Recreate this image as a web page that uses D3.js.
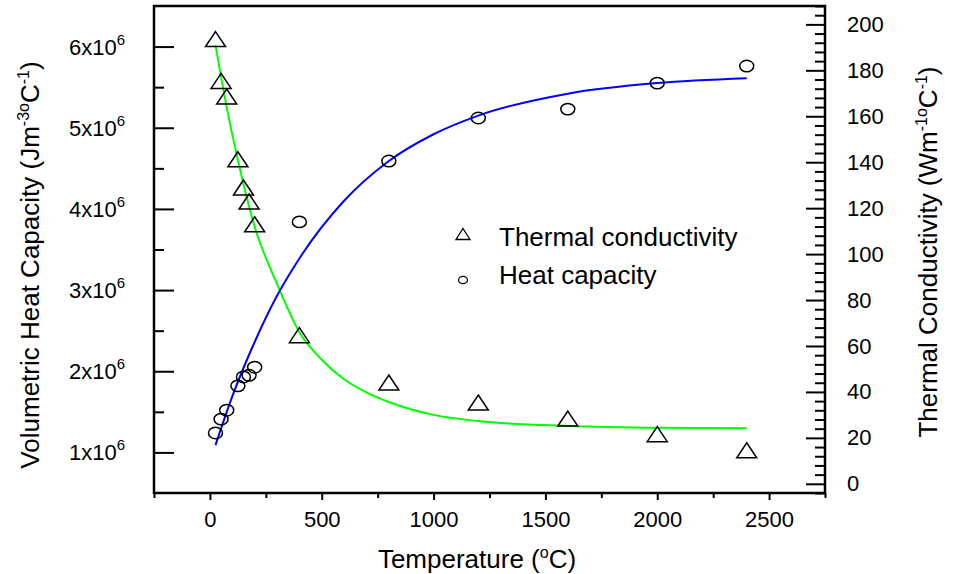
<!DOCTYPE html>
<html>
<head>
<meta charset="utf-8">
<script src="https://cdn.jsdelivr.net/npm/d3@7"></script>
<style>
  body { margin: 0; background: #fff; }
  text { font-family: "Liberation Sans", Arial, sans-serif; fill: #000; }
</style>
</head>
<body>
<svg id="chart" width="956" height="574"></svg>
<script>
// measured points
var temps = [25, 50, 75, 125, 150, 175, 200, 400, 800, 1200, 1600, 2000, 2400];
var conductivity = [193.6, 175.4, 168.6, 141.3, 129, 122.9, 113, 64.7, 44.1, 35.4, 28.4, 21.6, 14.6];
var heatCapacity = [1.24, 1.41, 1.52, 1.82, 1.93, 1.95, 2.05, 3.84, 4.59, 5.12, 5.23, 5.55, 5.76]; // x10^6

// fitted curves
var fitTempsCp = [25, 100, 200, 300, 400, 600, 800, 1000, 1200, 1600, 2000, 2400];
var fitCp = [1.09, 1.69, 2.36, 2.93, 3.39, 4.10, 4.59, 4.92, 5.15, 5.42, 5.55, 5.61];
var fitTempsK = [25, 75, 125, 200, 300, 400, 500, 600, 700, 800, 1000, 1200, 1600, 2000, 2400];
var fitK = [191, 164, 141, 112, 87, 66, 54, 45.5, 39.8, 35.6, 30, 27.3, 25.2, 24.4, 24.2];

var xTicks = [0, 500, 1000, 1500, 2000, 2500];
var xMinor = [-250, 250, 750, 1250, 1750, 2250, 2750];
var leftTicks = [1, 2, 3, 4, 5, 6];
var leftMinor = [1.5, 2.5, 3.5, 4.5, 5.5];
var rightTicks = [0, 20, 40, 60, 80, 100, 120, 140, 160, 180, 200];

var svg = d3.select("#chart");

var margin = {left: 154, right: 131, top: 6, bottom: 81};
var W = 956, H = 574;

var x = d3.scaleLinear().domain([-250, 2750]).range([margin.left, W - margin.right]);
var yL = d3.scaleLinear().domain([0.5, 6.5]).range([H - margin.bottom, margin.top]);
var yR = d3.scaleLinear().domain([-4, 208]).range([H - margin.bottom, margin.top]);

var rightMinor = d3.range(-4, 209, 4).filter(v => v % 20 != 0);

// bottom axis
var gx = svg.append("g").attr("transform", "translate(0," + (H - margin.bottom) + ")");
gx.call(d3.axisBottom(x).tickValues(xTicks).tickSize(7).tickPadding(11).tickFormat(d3.format("d")));
gx.append("g").call(d3.axisBottom(x).tickValues(xMinor).tickSize(5).tickFormat(""));

// left axis, ticks inside
var gl = svg.append("g").attr("transform", "translate(" + margin.left + ",0)");
gl.call(d3.axisLeft(yL).tickValues(leftTicks).tickSize(-20).tickFormat(""));
gl.append("g").call(d3.axisLeft(yL).tickValues(leftMinor).tickSize(-10).tickFormat(""));

// right axis, ticks inside
var gr = svg.append("g").attr("transform", "translate(" + (W - margin.right) + ",0)");
gr.call(d3.axisRight(yR).tickValues(rightTicks).tickSize(-19).tickPadding(22).tickFormat(d3.format("d")));
gr.append("g").call(d3.axisRight(yR).tickValues(rightMinor).tickSize(-10).tickFormat(""));

svg.selectAll(".domain").remove();
svg.selectAll(".tick line").attr("stroke", "#000").attr("stroke-width", 2);
svg.selectAll(".tick text").style("font-size", "22px").attr("fill", "#000");

// left tick labels with superscript
var ll = svg.append("g");
leftTicks.forEach(v => {
  var t = ll.append("text")
      .attr("x", 125)
      .attr("y", yL(v) + 8)
      .attr("text-anchor", "end")
      .style("font-size", "22px")
      .text(v + "x10");
  t.append("tspan").attr("dy", -10).style("font-size", "15px").text("6");
});

// frame
svg.append("rect")
    .attr("x", margin.left)
    .attr("y", margin.top)
    .attr("width", W - margin.left - margin.right)
    .attr("height", H - margin.top - margin.bottom)
    .attr("fill", "none")
    .attr("stroke", "#000")
    .attr("stroke-width", 2.5);

// fit curves
var lineCp = d3.line()
    .x((d, i) => x(fitTempsCp[i]))
    .y(d => yL(d))
    .curve(d3.curveMonotoneX);
var lineK = d3.line()
    .x((d, i) => x(fitTempsK[i]))
    .y(d => yR(d))
    .curve(d3.curveMonotoneX);

svg.append("path").attr("d", lineK(fitK))
    .attr("fill", "none").attr("stroke", "#00ff00").attr("stroke-width", 2);
svg.append("path").attr("d", lineCp(fitCp))
    .attr("fill", "none").attr("stroke", "#0000ff").attr("stroke-width", 2);

// markers
function tri(cx, cy, w, h) {
  return "M" + cx + "," + (cy - h / 2) + "L" + (cx + w / 2) + "," + (cy + h / 2) + "L" + (cx - w / 2) + "," + (cy + h / 2) + "Z";
}

svg.append("g").selectAll("path")
    .data(conductivity)
    .enter().append("path")
    .attr("d", (d, i) => tri(x(temps[i]), yR(d), 20, 15))
    .attr("fill", "none")
    .attr("stroke", "#000")
    .attr("stroke-width", 1.5);

svg.append("g").selectAll("ellipse")
    .data(heatCapacity)
    .enter().append("ellipse")
    .attr("cx", (d, i) => x(temps[i]))
    .attr("cy", d => yL(d))
    .attr("rx", 7)
    .attr("ry", 5.7)
    .attr("fill", "none")
    .attr("stroke", "#000")
    .attr("stroke-width", 1.5);

// legend
var lg = svg.append("g");
lg.append("path").attr("d", tri(463, 234, 14, 11))
    .attr("fill", "none").attr("stroke", "#000").attr("stroke-width", 1.3);
lg.append("ellipse").attr("cx", 463).attr("cy", 280).attr("rx", 4.5).attr("ry", 3.7)
    .attr("fill", "none").attr("stroke", "#000").attr("stroke-width", 1.3);
lg.append("text").attr("x", 499).attr("y", 246).style("font-size", "26px").text("Thermal conductivity");
lg.append("text").attr("x", 499).attr("y", 284).style("font-size", "26px").text("Heat capacity");

// axis titles
var tx = svg.append("text")
    .attr("x", 477)
    .attr("y", 568)
    .attr("text-anchor", "middle")
    .style("font-size", "26px")
    .text("Temperature (");
tx.append("tspan").attr("dy", -10).style("font-size", "16px").text("o");
tx.append("tspan").attr("dy", 10).text("C)");

var tl = svg.append("text")
    .attr("transform", "translate(39,265) rotate(-90)")
    .attr("text-anchor", "middle")
    .style("font-size", "26px")
    .text("Volumetric Heat Capacity (Jm");
tl.append("tspan").attr("dy", -10).style("font-size", "16px").text("-3o");
tl.append("tspan").attr("dy", 10).text("C");
tl.append("tspan").attr("dy", -10).style("font-size", "16px").text("-1");
tl.append("tspan").attr("dy", 10).text(")");

var tr = svg.append("text")
    .attr("transform", "translate(937,252) rotate(-90)")
    .attr("text-anchor", "middle")
    .style("font-size", "26px")
    .text("Thermal Conductivity (Wm");
tr.append("tspan").attr("dy", -10).style("font-size", "16px").text("-1o");
tr.append("tspan").attr("dy", 10).text("C");
tr.append("tspan").attr("dy", -10).style("font-size", "16px").text("-1");
tr.append("tspan").attr("dy", 10).text(")");
</script>
</body>
</html>
